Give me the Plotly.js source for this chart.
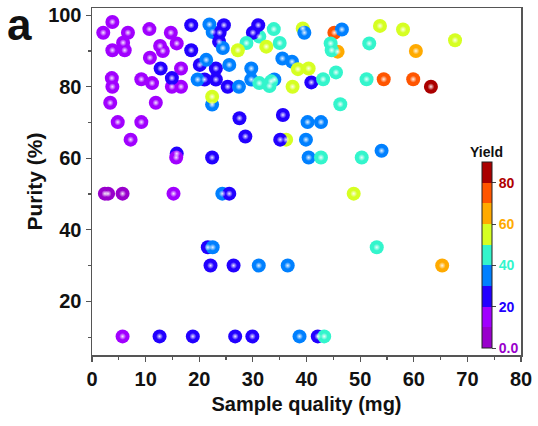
<!DOCTYPE html>
<html>
<head>
<meta charset="utf-8">
<script src="https://cdn.plot.ly/plotly-3.0.1.min.js"></script>
<style>html,body{margin:0;padding:0;background:#fff;}#chart{width:538px;height:426px;}</style>
</head>
<body>
<div id="chart"></div>
<script>
// Sample quality (mg)
const sampleMass = [
  15.8, 36.2, 45.2, 45.8, 39.3, 22.5, 24.3, 31.2, 22.4, 21.6, 42.1,
  3.8, 2.1, 6.7, 10.7, 14.7, 5.8, 3.8, 6.1, 12.7, 13.2, 15.8, 10.8, 16.6,
  3.7, 3.8, 9.2, 11.2, 14.9, 16.6, 3.4, 11.9, 4.8, 9.2, 7.2, 15.7,
  2.4, 3.0, 5.7, 15.2, 5.7,
  18.5, 24.6, 23.8, 23.7, 31.0, 30.0, 18.5, 12.8, 20.1, 23.1, 14.9, 21.0, 23.1, 25.3,
  40.9, 27.5, 35.6, 28.6, 35.1, 22.4, 25.6, 22.1, 26.4,
  12.6, 18.8, 26.7, 29.9,
  21.9, 24.4, 39.6, 46.6, 21.3, 25.6, 29.7, 35.5, 37.3, 19.7, 27.4, 29.7, 34.0,
  40.2, 42.7, 39.9, 40.4, 54.0, 22.5, 31.1, 36.5, 38.7,
  28.8, 33.9, 35.0, 44.5, 44.7, 51.7, 31.2, 33.1, 33.4, 43.1, 45.5, 51.2, 46.3,
  42.7, 50.3, 53.1, 43.3,
  27.2, 32.5, 53.7, 58.0, 67.7, 38.4, 40.4, 37.4, 22.4, 48.8,
  60.4, 65.3,
  54.4, 59.9,
  63.2
];
// Purity (%)
const purity = [
  61.3, 65.2, 95.1, 89.8, 96.3, 95.3, 50.1, 94.0, 75.0, 35.1, 10.2,
  98.1, 95.1, 95.1, 96.1, 95.1, 92.3, 90.2, 90.2, 91.4, 90.0, 92.1, 88.1, 85.1,
  82.4, 80.0, 82.1, 81.0, 80.0, 80.0, 75.5, 75.5, 70.1, 70.1, 65.2, 60.2,
  50.1, 50.1, 50.1, 50.1, 10.2,
  97.2, 97.2, 95.1, 92.6, 97.2, 95.1, 90.2, 85.1, 86.1, 85.1, 82.4, 82.0, 82.0, 80.0,
  81.2, 71.2, 72.1, 66.1, 65.2, 60.2, 50.1, 30.0, 30.0,
  10.2, 10.2, 10.2, 10.2,
  97.4, 90.8, 95.1, 96.0, 87.5, 86.1, 85.1, 87.9, 87.0, 82.0, 80.0, 82.0, 82.0,
  70.1, 70.1, 65.2, 60.2, 62.1, 35.1, 30.0, 30.0, 10.2,
  92.2, 96.1, 92.2, 92.1, 90.2, 92.1, 81.0, 80.2, 81.5, 82.1, 84.0, 82.1, 75.1,
  60.2, 60.2, 35.1, 10.2,
  90.2, 91.2, 97.0, 96.0, 93.0, 84.9, 85.1, 80.0, 77.2, 50.1,
  90.0, 30.0,
  82.1, 82.1,
  80.0
];
// Yield (%)
const yieldPct = [
  25, 55, 75, 65, 55, 35, 35, 45, 35, 25, 25,
  15, 15, 15, 15, 15, 15, 15, 15, 15, 15, 15, 15, 15,
  15, 15, 15, 15, 15, 15, 15, 15, 15, 15, 15, 15,
  8, 8, 8, 15, 15,
  25, 25, 25, 25, 25, 25, 25, 25, 25, 25, 25, 25, 25, 25,
  25, 25, 25, 25, 25, 25, 25, 25, 25,
  25, 25, 25, 25,
  35, 35, 35, 35, 35, 35, 35, 35, 35, 35, 35, 35, 35,
  35, 35, 35, 35, 35, 35, 35, 35, 35,
  45, 45, 45, 45, 45, 45, 45, 45, 45, 45, 45, 45, 45,
  45, 45, 45, 45,
  55, 55, 55, 55, 55, 55, 55, 55, 55, 55,
  65, 65,
  75, 75,
  85
];
// Colour bands of the Yield scale (0-90 in steps of 10)
const bandColors = ['#9900cc', '#a100ff', '#2200ff', '#0080ff', '#33f5cc', '#d6ff22', '#ffaa00', '#ff5500', '#aa0000'];
const cbTickVals = [0, 20, 40, 60, 80];
const cbTickLabels = ['0.0', '20', '40', '60', '80'];
const cbTickColors = ['#9900cc', '#2200ff', '#33f5cc', '#ffaa00', '#b00000'];
const xTickVals = [0, 10, 20, 30, 40, 50, 60, 70, 80];
const yTickVals = [20, 40, 60, 80, 100];

const nb = bandColors.length;
const colorscale = [];
bandColors.forEach((c, i) => { colorscale.push([i / nb, c]); colorscale.push([(i + 1) / nb, c]); });

const FONT = '"Liberation Sans", Arial, Helvetica, sans-serif';

const main = {
  type: 'scatter', mode: 'markers',
  x: sampleMass, y: purity,
  hoverinfo: 'skip',
  marker: {
    size: 14, color: yieldPct, colorscale: colorscale, cmin: 0, cmax: 90,
    line: {width: 0},
    showscale: true,
    colorbar: {
      x: 0.908, xanchor: 'left', xref: 'paper',
      y: 0.02, yanchor: 'bottom',
      len: 0.537, lenmode: 'fraction',
      thickness: 10, thicknessmode: 'pixels',
      xpad: 0, ypad: 0,
      outlinewidth: 1, outlinecolor: '#222',
      ticks: 'outside', ticklen: 4, tickwidth: 1, tickcolor: '#444',
      tickmode: 'array', tickvals: cbTickVals,
      ticktext: cbTickLabels.map((t, i) => '<span style="color:' + cbTickColors[i] + '">' + t + '</span>'),
      tickfont: {family: FONT, size: 14, weight: 'bold'},
      title: {text: ''}
    }
  }
};
const shine = {
  type: 'scatter', mode: 'markers',
  x: sampleMass, y: purity,
  hoverinfo: 'skip', showlegend: false,
  marker: {size: 7, color: 'rgba(255,255,255,0)', line: {width: 0},
           gradient: {type: 'radial', color: 'rgba(255,255,255,0.9)'}}
};

const axisCommon = {
  showline: true, linecolor: '#555', linewidth: 1.5, mirror: true,
  ticks: 'outside', ticklen: 5, tickwidth: 1.2, tickcolor: '#555',
  showgrid: false, zeroline: false,
  tickfont: {family: FONT, size: 20, weight: 'bold', color: '#111'}
};

const layout = {
  width: 538, height: 426,
  margin: {l: 92, r: 17, t: 8, b: 71},
  paper_bgcolor: '#fff', plot_bgcolor: '#fff',
  showlegend: false,
  font: {family: FONT, color: '#111'},
  xaxis: Object.assign({}, axisCommon, {
    range: [0, 80], tickmode: 'array', tickvals: xTickVals,
    minor: {dtick: 5, tick0: 0, ticks: 'outside', ticklen: 3, tickcolor: '#555'},
    title: {text: 'Sample quality (mg)', font: {family: FONT, size: 20, weight: 'bold', color: '#111'}, standoff: 8}
  }),
  yaxis: Object.assign({}, axisCommon, {
    range: [5, 102], tickmode: 'array', tickvals: yTickVals,
    minor: {dtick: 10, tick0: 0, ticks: 'outside', ticklen: 3, tickcolor: '#555'},
    title: {text: 'Purity (%)', font: {family: FONT, size: 21, weight: 'bold', color: '#111'}, standoff: 0}
  }),
  annotations: [{
    text: 'a', xref: 'paper', yref: 'paper', x: -0.169, y: 0.952,
    xanchor: 'center', yanchor: 'middle', showarrow: false,
    font: {family: FONT, size: 44, weight: 'bold', color: '#111'}
  }, {
    text: 'Yield', xref: 'paper', yref: 'paper', x: 0.920, y: 0.585,
    xanchor: 'center', yanchor: 'middle', showarrow: false,
    font: {family: FONT, size: 14, weight: 'bold', color: '#111'}
  }]
};

Plotly.newPlot('chart', [main, shine], layout, {displayModeBar: false, staticPlot: true});
</script>
</body>
</html>
